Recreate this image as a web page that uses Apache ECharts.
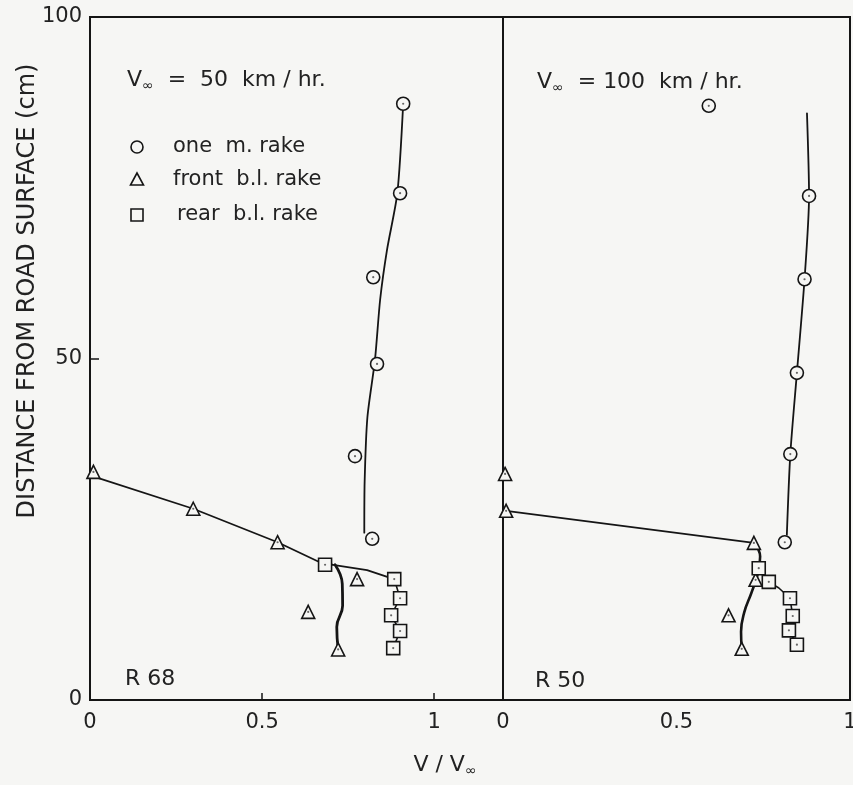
<!DOCTYPE html>
<html>
<head>
<meta charset="utf-8">
<script src="https://cdn.jsdelivr.net/npm/echarts@6/dist/echarts.min.js"></script>
<style>
html,body{margin:0;padding:0;background:#f6f6f4;}
#chart{width:853px;height:785px;}
</style>
</head>
<body>
<div id="chart"></div>
<script>
// ---- data (V/V∞, height cm) ----
var yTicks = [0, 50, 100];
var xTicksLeft = [0, 0.5, 1];
var xTicksRight = [0, 0.5, 1];

// R 68, V∞ = 50 km/hr
var leftCircles   = [[0.910,87.3],[0.901,74.2],[0.823,61.9],[0.834,49.2],[0.770,35.7],[0.820,23.6]];
var leftTriangles = [[0.010,33.4],[0.300,28.0],[0.545,23.1],[0.776,17.7],[0.634,12.9],[0.721,7.4]];
var leftSquares   = [[0.683,19.8],[0.884,17.7],[0.901,14.9],[0.875,12.4],[0.901,10.1],[0.881,7.6]];
var leftCircleFit = [[0.910,87.3],[0.893,74.2],[0.863,65.9],[0.843,58.6],[0.828,49.8],[0.806,41.4],[0.798,32.0],[0.797,24.5]];
var leftUpperFit  = [[0.000,32.9],[0.300,28.0],[0.545,23.1],[0.683,19.8],[0.706,19.8],[0.805,19.0],[0.866,18.0],[0.884,17.7]];
var leftLowerFit  = [[0.712,19.8],[0.733,17.0],[0.734,13.8],[0.717,10.7],[0.721,7.4]];
var leftSquareFit = [[0.884,17.7],[0.901,14.9],[0.875,12.4],[0.901,10.1],[0.881,7.6]];

// R 50, V∞ = 100 km/hr
var rightCircles   = [[0.593,87.0],[0.882,73.8],[0.869,61.6],[0.847,47.9],[0.828,36.0],[0.812,23.1]];
var rightTriangles = [[0.006,33.1],[0.009,27.7],[0.723,23.0],[0.728,17.6],[0.650,12.4],[0.688,7.5]];
var rightSquares   = [[0.737,19.3],[0.766,17.3],[0.827,14.9],[0.835,12.3],[0.824,10.2],[0.847,8.1]];
var rightCircleFit = [[0.876,85.9],[0.882,73.8],[0.869,61.6],[0.847,47.9],[0.828,36.0],[0.818,24.2]];
var rightUpperFit  = [[0.009,27.7],[0.723,23.0]];
var rightBendFit   = [[0.723,23.0],[0.741,21.0],[0.735,18.6],[0.716,15.7],[0.695,12.8],[0.686,10.0],[0.688,7.5]];
var rightSquareFit = [[0.766,17.3],[0.795,16.4],[0.827,14.9],[0.835,12.3],[0.824,10.2],[0.847,8.1]];

var INK = '#151515';
var BG = '#f6f6f4';
var FONT = 'DejaVu Sans';

function lineSeries(data, gi, width, smooth) {
  return {type:'line', xAxisIndex:gi, yAxisIndex:gi, data:data, showSymbol:false, symbol:'none',
    smooth: smooth || false,
    lineStyle:{color:INK, width:width, cap:'round', join:'round'}, z:2, silent:true, animation:false};
}
function markSeries(data, gi, symbol, size) {
  return {type:'scatter', xAxisIndex:gi, yAxisIndex:gi, data:data, symbol:symbol, symbolSize:size,
    itemStyle:{color:BG, borderColor:INK, borderWidth:1.6, opacity:1}, z:4, silent:true, animation:false};
}
function dotSeries(data, gi) {
  return {type:'scatter', xAxisIndex:gi, yAxisIndex:gi, data:data, symbol:'circle', symbolSize:2.2,
    itemStyle:{color:'#444'}, z:5, silent:true, animation:false};
}

var chart = echarts.init(document.getElementById('chart'), null, {renderer:'canvas'});

var labelStyle = {color:'#222', fontSize:21, fontFamily:FONT};

var option = {
  backgroundColor: BG,
  animation: false,
  grid: [
    {left:90, top:17, width:413, height:683, show:true, borderColor:INK, borderWidth:2, backgroundColor:'transparent', outerBoundsMode:'none', containLabel:false},
    {left:503, top:17, width:347, height:683, show:true, borderColor:INK, borderWidth:2, backgroundColor:'transparent', outerBoundsMode:'none', containLabel:false}
  ],
  xAxis: [
    {type:'value', gridIndex:0, min:0, max:1.2, interval:0.5,
     axisLine:{show:true, lineStyle:{color:INK, width:2}},
     axisTick:{show:true, inside:true, length:7, lineStyle:{color:INK, width:1.5}},
     splitLine:{show:false},
     axisLabel:Object.assign({margin:12, showMaxLabel:false,
       formatter:function(v){ return xTicksLeft.indexOf(v) >= 0 ? String(v) : ''; }}, labelStyle)},
    {type:'value', gridIndex:1, min:0, max:1, interval:0.5,
     axisLine:{show:true, lineStyle:{color:INK, width:2}},
     axisTick:{show:false},
     splitLine:{show:false},
     axisLabel:Object.assign({margin:12, showMaxLabel:true,
       formatter:function(v){ return xTicksRight.indexOf(v) >= 0 ? String(v) : ''; }}, labelStyle)}
  ],
  yAxis: [
    {type:'value', gridIndex:0, min:0, max:100, interval:50,
     axisLine:{show:true, lineStyle:{color:INK, width:2}},
     axisTick:{show:true, inside:true, length:9, lineStyle:{color:INK, width:1.5}},
     splitLine:{show:false},
     axisLabel:Object.assign({margin:8,
       formatter:function(v){ return yTicks.indexOf(v) >= 0 ? String(v) : ''; }}, labelStyle)},
    {type:'value', gridIndex:1, min:0, max:100, interval:50,
     axisLine:{show:true, lineStyle:{color:INK, width:2}},
     axisTick:{show:false}, splitLine:{show:false}, axisLabel:{show:false}}
  ],
  series: [
    lineSeries(leftCircleFit, 0, 1.8, 0.25),
    lineSeries(leftUpperFit, 0, 1.8, false),
    lineSeries(leftLowerFit, 0, 2.8, 0.45),
    lineSeries(leftSquareFit, 0, 1.6, false),
    lineSeries(rightCircleFit, 1, 1.8, 0.25),
    lineSeries(rightUpperFit, 1, 1.8, false),
    lineSeries(rightBendFit, 1, 2.6, 0.45),
    lineSeries(rightSquareFit, 1, 1.6, false),
    markSeries(leftCircles, 0, 'circle', 13),
    markSeries(leftTriangles, 0, 'triangle', 13),
    markSeries(leftSquares, 0, 'rect', 13),
    markSeries(rightCircles, 1, 'circle', 13),
    markSeries(rightTriangles, 1, 'triangle', 13),
    markSeries(rightSquares, 1, 'rect', 13),
    dotSeries(leftCircles.concat(leftTriangles, leftSquares), 0),
    dotSeries(rightCircles.concat(rightTriangles, rightSquares), 1)
  ],
  graphic: [
    // y axis title
    {type:'text', x:28, y:291, rotation:Math.PI/2, silent:true,
     style:{text:'DISTANCE FROM ROAD SURFACE (cm)', fill:'#222', font:'24px "DejaVu Sans"',
            align:'center', verticalAlign:'middle'}},
    // x axis title
    {type:'text', x:445, y:765, silent:true,
     style:{text:'V / V{s|∞}', fill:'#222', font:'22px "DejaVu Sans"', align:'center', verticalAlign:'middle',
            rich:{s:{fontSize:14, fontFamily:FONT, padding:[12,0,0,0], fill:'#222'}}}},
    // panel annotations
    {type:'text', x:127, y:80, silent:true,
     style:{text:'V{s|∞}  =  50  km / hr.', fill:'#222', font:'22px "DejaVu Sans"', align:'left', verticalAlign:'middle',
            rich:{s:{fontSize:14, fontFamily:FONT, padding:[12,0,0,0], fill:'#222'}}}},
    {type:'text', x:537, y:82, silent:true,
     style:{text:'V{s|∞}  = 100  km / hr.', fill:'#222', font:'22px "DejaVu Sans"', align:'left', verticalAlign:'middle',
            rich:{s:{fontSize:14, fontFamily:FONT, padding:[12,0,0,0], fill:'#222'}}}},
    {type:'text', x:125, y:679, silent:true,
     style:{text:'R 68', fill:'#222', font:'22px "DejaVu Sans"', align:'left', verticalAlign:'middle'}},
    {type:'text', x:535, y:681, silent:true,
     style:{text:'R 50', fill:'#222', font:'22px "DejaVu Sans"', align:'left', verticalAlign:'middle'}},
    // legend
    {type:'circle', shape:{cx:137, cy:147, r:6}, silent:true, style:{fill:'none', stroke:INK, lineWidth:1.6}},
    {type:'polygon', shape:{points:[[137,173],[130.5,185],[143.5,185]]}, silent:true, style:{fill:'none', stroke:INK, lineWidth:1.6}},
    {type:'rect', shape:{x:131, y:209, width:12, height:12}, silent:true, style:{fill:'none', stroke:INK, lineWidth:1.6}},
    {type:'text', x:173, y:147, silent:true, style:{text:'one  m. rake', fill:'#222', font:'21px "DejaVu Sans"', align:'left', verticalAlign:'middle'}},
    {type:'text', x:173, y:180, silent:true, style:{text:'front  b.l. rake', fill:'#222', font:'21px "DejaVu Sans"', align:'left', verticalAlign:'middle'}},
    {type:'text', x:177, y:215, silent:true, style:{text:'rear  b.l. rake', fill:'#222', font:'21px "DejaVu Sans"', align:'left', verticalAlign:'middle'}}
  ]
};
chart.setOption(option);
</script>
</body>
</html>
